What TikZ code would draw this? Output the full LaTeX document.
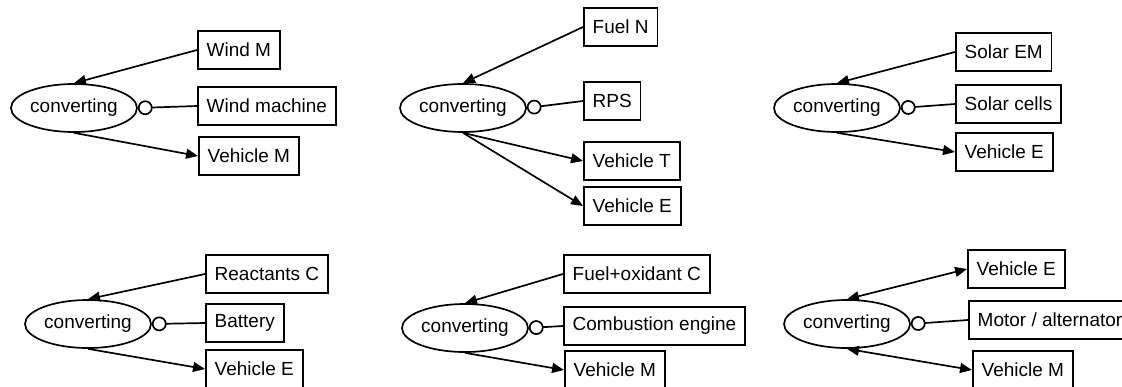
\documentclass[tikz,border=0pt]{standalone}
\usepackage{fontspec}
\setmainfont{Liberation Sans}
\usetikzlibrary{arrows.meta, shapes.geometric}
\tikzset{
  every picture/.style={font=\fontsize{13.5}{16}\selectfont, line width=1.2pt},
  proc/.style={draw, ellipse, minimum width=3.15cm, minimum height=1.2cm, inner sep=0pt},
  thing/.style={draw, anchor=west, inner xsep=6.3pt, inner ysep=0pt, minimum height=27pt},
  flow/.style={-{Triangle[length=8.5pt, width=7pt]}},
  flows/.style={{Triangle[length=8.5pt, width=7pt]}-{Triangle[length=8.5pt, width=7pt]}},
  tool/.style={{Circle[open, length=10.5pt, width=10.5pt]}-},
}

\begin{document}
\begin{tikzpicture}[x=0.025cm, y=-0.025cm]
  \useasboundingbox (0,0) rectangle (1122,387);
  % wind
  \node[proc] (conv1) at (74,108) {converting};
  \node[thing] (windM) at (197,50) {Wind M};
  \node[thing] (windMach) at (197,106) {Wind machine};
  \node[thing] (vehM1) at (198,156) {Vehicle M};
  \draw[flow] (windM.west) -- (conv1.north);
  \draw[tool] (conv1.east) -- (windMach.west);
  \draw[flow] (conv1.south) -- (vehM1.west);
  % fuel
  \node[proc] (conv2) at (463,108) {converting};
  \node[thing] (fuelN) at (583,27) {Fuel N};
  \node[thing] (rps) at (583,101) {RPS};
  \node[thing] (vehT2) at (583,161) {Vehicle T};
  \node[thing] (vehE2) at (583,206) {Vehicle E};
  \draw[flow] (fuelN.west) -- (conv2.north);
  \draw[tool] (conv2.east) -- (rps.west);
  \draw[flow] (conv2.south) -- (vehT2.west);
  \draw[flow] (conv2.south) -- (vehE2.west);
  % solar
  \node[proc] (conv3) at (837,108) {converting};
  \node[thing] (solarEM) at (955,52) {Solar EM};
  \node[thing] (solarCells) at (955,104) {Solar cells};
  \node[thing] (vehE3) at (955,152) {Vehicle E};
  \draw[flow] (solarEM.west) -- (conv3.north);
  \draw[tool] (conv3.east) -- (solarCells.west);
  \draw[flow] (conv3.south) -- (vehE3.west);
  % battery
  \node[proc] (conv4) at (88,324) {converting};
  \node[thing] (reactC) at (205,274) {Reactants C};
  \node[thing] (battery) at (205,323) {Battery};
  \node[thing] (vehE4) at (205,369) {Vehicle E};
  \draw[flow] (reactC.west) -- (conv4.north);
  \draw[tool] (conv4.east) -- (battery.west);
  \draw[flow] (conv4.south) -- (vehE4.west);
  % combustion
  \node[proc] (conv5) at (465,328) {converting};
  \node[thing] (fuelOxC) at (563,274) {Fuel+oxidant C};
  \node[thing] (combEng) at (563,326) {Combustion engine};
  \node[thing] (vehM5) at (564,370) {Vehicle M};
  \draw[flow] (fuelOxC.west) -- (conv5.north);
  \draw[tool] (conv5.east) -- (combEng.west);
  \draw[flow] (conv5.south) -- (vehM5.west);
  % motor / alternator
  \node[proc] (conv6) at (847,324) {converting};
  \node[thing] (vehE6) at (967,269) {Vehicle E};
  \node[thing] (motor) at (968,320) {Motor / alternator};
  \node[thing] (vehM6) at (972,370) {Vehicle M};
  \draw[flows] (conv6.north) -- (vehE6.west);
  \draw[tool] (conv6.east) -- (motor.west);
  \draw[flows] (conv6.south) -- (vehM6.west);
\end{tikzpicture}
\end{document}
